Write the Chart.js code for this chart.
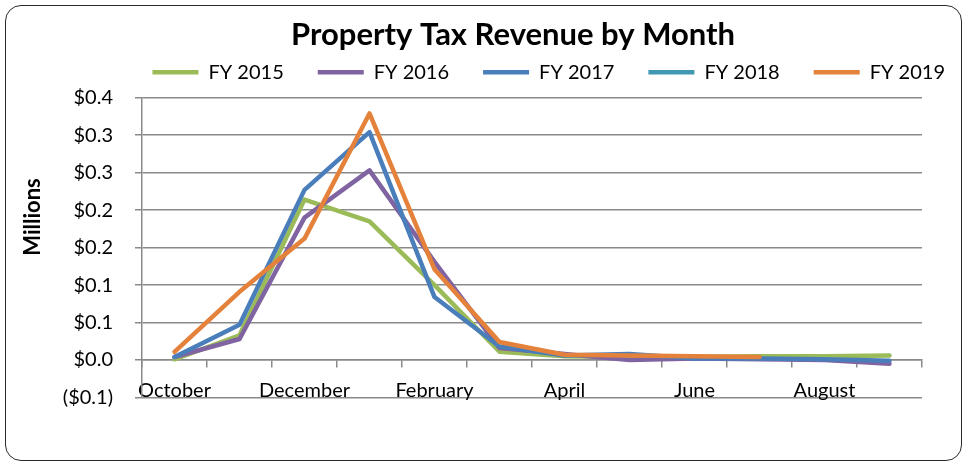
<!DOCTYPE html>
<html>
<head>
<meta charset="utf-8">
<title>Property Tax Revenue by Month</title>
<script src="https://cdn.jsdelivr.net/npm/chart.js@4.4.1/dist/chart.umd.min.js"></script>
<style>
  html, body { margin: 0; padding: 0; background: #fff; }
  #wrap { position: relative; width: 962px; height: 462px; }
  #frame {
    position: absolute; left: 5px; top: 5px; width: 957px; height: 456px;
    box-sizing: border-box; border: 1.5px solid #2a2a2a; border-radius: 16px;
    pointer-events: none;
  }
</style>
</head>
<body>
<div id="wrap">
  <canvas id="taxChart" width="962" height="462"></canvas>
  <div id="frame"></div>
</div>
<script>
// chart data (values in millions)
const months = ['October', 'November', 'December', 'January', 'February', 'March',
                'April', 'May', 'June', 'July', 'August', 'September'];
const fy2015 = [0.001, 0.033, 0.214, 0.185, 0.100, 0.011, 0.005, 0.004, 0.004, 0.005, 0.005, 0.006];
const fy2016 = [0.004, 0.028, 0.190, 0.253, 0.131, 0.016, 0.008, 0.000, 0.002, 0.001, 0.000, -0.005];
const fy2017 = [0.004, 0.047, 0.227, 0.304, 0.084, 0.018, 0.006, 0.008, 0.002, 0.002, 0.001, -0.001];
const fy2018 = [];
const fy2019 = [0.011, 0.091, 0.162, 0.329, 0.121, 0.024, 0.007, 0.006, 0.005, 0.004];
const seriesNames = ['FY 2015', 'FY 2016', 'FY 2017', 'FY 2018', 'FY 2019'];
const yTickLabels = ['($0.1)', '$0.0', '$0.1', '$0.1', '$0.2', '$0.2', '$0.3', '$0.3', '$0.4'];
const chartTitle = 'Property Tax Revenue by Month';
const yAxisTitle = 'Millions';

const colors = ['#9BBB59', '#8064A2', '#4A7EBB', '#4198B2', '#E4823B'];
const gridGray = '#8a8a8a';

Chart.defaults.font.family = 'Lato';
Chart.defaults.color = '#000';

function makeSet(i, values) {
    return {
        label: seriesNames[i],
        data: values,
        borderColor: colors[i],
        backgroundColor: colors[i],
        borderWidth: 4.5,
        borderCapStyle: 'round',
        borderJoinStyle: 'round',
        pointRadius: 0,
        pointHoverRadius: 0,
        tension: 0,
        order: 4 - i   // later years drawn on top, like the original
    };
}

// rotated axis title, placed where the original has it
const yTitlePlugin = {
    id: 'yTitle',
    afterDraw(chart) {
        const ctx = chart.ctx;
        ctx.save();
        ctx.translate(33, 217);
        ctx.rotate(-Math.PI / 2);
        ctx.font = 'bold 22px Lato';
        ctx.fillStyle = '#000';
        ctx.textAlign = 'center';
        ctx.textBaseline = 'middle';
        ctx.fillText(yAxisTitle, 0, 0);
        ctx.restore();
    }
};

const ctx = document.getElementById('taxChart').getContext('2d');
const taxChart = new Chart(ctx, {
    type: 'line',
    data: {
        labels: months,
        datasets: [
            makeSet(0, fy2015),
            makeSet(1, fy2016),
            makeSet(2, fy2017),
            makeSet(3, fy2018),
            makeSet(4, fy2019)
        ]
    },
    plugins: [yTitlePlugin],
    options: {
        responsive: false,
        animation: false,
        layout: { padding: { left: 47, right: -17, top: 0, bottom: 64.5 } },
        plugins: {
            title: {
                display: true,
                text: chartTitle,
                font: { size: 31, weight: 'bold' },
                padding: { top: 16, bottom: -25 }
            },
            legend: {
                display: true,
                align: 'end',
                labels: {
                    usePointStyle: true,
                    pointStyle: 'line',
                    pointStyleWidth: 46,
                    padding: 34,
                    font: { size: 20 },
                    sort: (a, b) => a.datasetIndex - b.datasetIndex
                }
            },
            tooltip: { enabled: false }
        },
        scales: {
            x: {
                type: 'category',
                position: { y: 0 },
                offset: true,
                grid: {
                    offset: true,
                    drawOnChartArea: false,
                    tickLength: 7,
                    color: gridGray,
                    lineWidth: 1.5
                },
                border: { color: gridGray, width: 1.5 },
                ticks: {
                    autoSkip: false,
                    maxRotation: 0,
                    padding: 12,
                    font: { size: 20 },
                    callback: (v, i) => (i % 2 === 0 ? months[i] : '')
                }
            },
            y: {
                position: 'left',
                min: -0.05,
                max: 0.35,
                grid: { color: gridGray, lineWidth: 1.5, tickLength: 7 },
                border: { color: gridGray, width: 1.5 },
                ticks: {
                    stepSize: 0.05,
                    padding: 22,
                    font: { size: 20 },
                    callback: (v, i) => yTickLabels[i]
                },
                afterFit: (scale) => { scale.width = 95; }
            },
            // empty spacer axes, only to put the plot area where the original has it
            xTop: {
                type: 'category',
                position: 'top',
                grid: { display: false },
                border: { display: false },
                ticks: { display: false },
                afterFit: (scale) => { scale.height = 5.5; }
            },
            yRight: {
                position: 'right',
                grid: { display: false },
                border: { display: false },
                ticks: { display: false },
                afterFit: (scale) => { scale.width = 57; }
            }
        }
    }
});
</script>
</body>
</html>
